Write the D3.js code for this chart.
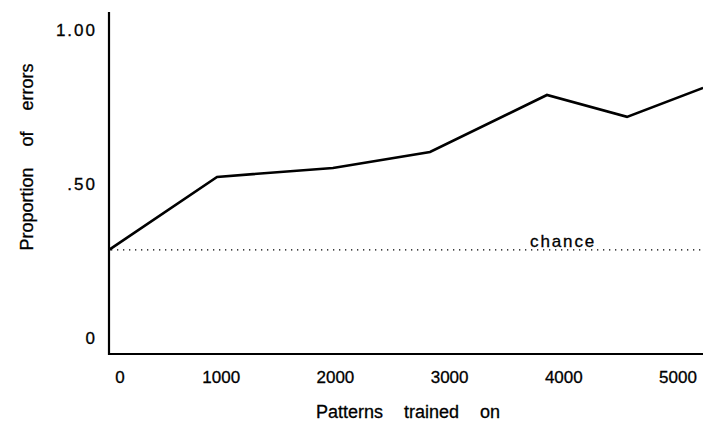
<!DOCTYPE html>
<html>
<head>
<meta charset="utf-8">
<script src="https://cdn.jsdelivr.net/npm/d3@7"></script>
<style>
  html, body { margin: 0; padding: 0; background: #fff; }
  svg { display: block; }
  text { font-family: "Liberation Sans", Arial, Helvetica, sans-serif; fill: #000; stroke: #000; stroke-width: 0.3px; }
</style>
</head>
<body>
<div id="chart"></div>
<script>
// ---- data ----
const patterns = [0, 946, 1961, 2811, 3835, 4536, 5202];
const errors   = [0.286, 0.523, 0.552, 0.604, 0.789, 0.718, 0.812];
const chance   = 0.286;
const xTicks = [0, 1000, 2000, 3000, 4000, 5000];
const xTickLabels = ["0", "1000", "2000", "3000", "4000", "5000"];
const yTicks = [0, 0.5, 1.0];
const yTickLabels = ["0", ".50", "1.00"];
const xTitle = "Patterns trained on";
const yTitle = "Proportion of errors";
const chanceLabel = "chance";

// ---- layout ----
const W = 703, H = 429;
const axisX = 109, axisY = 354, axisTop = 12, plotRight = 703;

const x = d3.scaleLinear().domain([0, 5000]).range([109, 680]);
const y = d3.scaleLinear().domain([0, 1]).range([338, 30]);

const svg = d3.select("#chart").append("svg")
  .attr("width", W).attr("height", H);

// axes lines
svg.append("line")
  .attr("x1", axisX).attr("x2", axisX)
  .attr("y1", axisTop).attr("y2", axisY + 1)
  .attr("stroke", "#000").attr("stroke-width", 2.2);
svg.append("line")
  .attr("x1", axisX - 1).attr("x2", plotRight)
  .attr("y1", axisY).attr("y2", axisY)
  .attr("stroke", "#000").attr("stroke-width", 2.2);

// x tick labels
svg.append("g").selectAll("text")
  .data(xTicks)
  .join("text")
  .attr("x", (d, i) => x(d) + (d === 0 ? 11 : -2))
  .attr("y", 383)
  .attr("text-anchor", "middle")
  .attr("font-size", 17)
  .text((d, i) => xTickLabels[i]);

// y tick labels
svg.append("g").selectAll("text")
  .data(yTicks)
  .join("text")
  .attr("x", 97)
  .attr("y", d => y(d))
  .attr("dy", "0.36em")
  .attr("text-anchor", "end")
  .attr("font-size", 17)
  .attr("letter-spacing", "2px")
  .text((d, i) => yTickLabels[i]);

// chance line
svg.append("line")
  .attr("x1", axisX + 2).attr("x2", plotRight)
  .attr("y1", y(chance)).attr("y2", y(chance))
  .attr("stroke", "#000").attr("stroke-width", 1.3)
  .attr("stroke-dasharray", "1.3,4.7");

svg.append("text")
  .attr("x", 530).attr("y", y(chance) - 3)
  .attr("font-size", 17)
  .attr("letter-spacing", "1.9px")
  .text(chanceLabel);

// data line
const line = d3.line()
  .x((d, i) => x(patterns[i]))
  .y(d => y(d));
svg.append("path")
  .datum(errors)
  .attr("d", line)
  .attr("fill", "none")
  .attr("stroke", "#000")
  .attr("stroke-width", 2.6)
  .attr("stroke-linejoin", "miter");

// axis titles
svg.append("text")
  .attr("x", 408).attr("y", 418)
  .attr("text-anchor", "middle")
  .attr("font-size", 18)
  .attr("word-spacing", "16px")
  .text(xTitle);

svg.append("text")
  .attr("transform", "translate(33,157) rotate(-90)")
  .attr("text-anchor", "middle")
  .attr("font-size", 18)
  .attr("word-spacing", "16px")
  .text(yTitle);
</script>
</body>
</html>
